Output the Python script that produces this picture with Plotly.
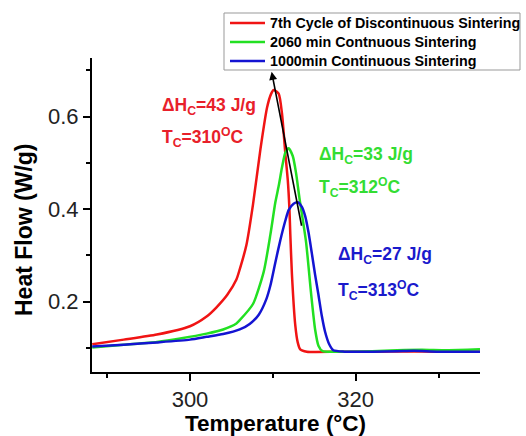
import plotly.graph_objects as go

# ---- data ----
red_x = [288.2, 292.0, 296.0, 300.0, 302.0, 303.2, 304.5, 305.6, 306.0, 306.8, 307.6, 308.5, 309.3, 309.8, 310.1,
         310.7, 311.1, 311.5, 311.8, 312.0, 312.1, 312.3, 312.7, 313.0, 313.3, 314.1, 318.0, 322.0, 326.0, 330.0, 335.0]
red_y = [0.108, 0.118, 0.129, 0.147, 0.168, 0.188, 0.215, 0.248, 0.270, 0.322, 0.410, 0.530, 0.620, 0.650, 0.658,
         0.650, 0.607, 0.521, 0.463, 0.400, 0.348, 0.260, 0.150, 0.112, 0.097, 0.092, 0.092, 0.092, 0.093, 0.092, 0.092]

green_x = [288.2, 292.0, 296.0, 299.0, 302.0, 304.0, 305.6, 306.0, 307.6, 308.9, 309.7, 310.3, 310.7, 311.1, 311.5,
           311.9, 312.4, 312.8, 313.2, 314.0, 314.6, 315.1, 315.5, 316.0, 318.0, 322.0, 325.0, 328.0, 331.0, 335.0]
green_y = [0.101, 0.107, 0.113, 0.121, 0.131, 0.140, 0.153, 0.160, 0.195, 0.265, 0.345, 0.415, 0.450, 0.490, 0.522,
           0.532, 0.515, 0.478, 0.425, 0.330, 0.220, 0.140, 0.105, 0.093, 0.092, 0.093, 0.095, 0.096, 0.095, 0.097]

blue_x = [288.2, 292.0, 296.0, 300.0, 302.0, 304.0, 306.0, 307.2, 308.3, 309.2, 309.7, 310.3, 310.9, 311.5, 311.9,
          312.5, 313.0, 313.5, 313.9, 314.3, 314.7, 315.1, 315.5, 315.9, 316.3, 316.8, 317.3, 318.6, 322.0, 325.0,
          327.0, 330.0, 335.0]
blue_y = [0.103, 0.107, 0.112, 0.118, 0.124, 0.130, 0.140, 0.152, 0.172, 0.205, 0.235, 0.285, 0.333, 0.375, 0.398,
          0.412, 0.415, 0.405, 0.385, 0.350, 0.305, 0.258, 0.215, 0.170, 0.135, 0.108, 0.095, 0.092, 0.092, 0.093,
          0.094, 0.092, 0.092]

names = ["7th Cycle of Discontinuous Sintering", "2060 min Contnuous Sintering", "1000min Continuous Sintering"]
line_colors = ["#f01414", "#22e022", "#1414d2"]
text_colors = ["#e8202a", "#33dd33", "#1a1acc"]

labels = [
    ("ΔH<sub>C</sub>=43 J/g", "T<sub>C</sub>=310<sup>O</sup>C", 296.4, 0.622, 0.555),
    ("ΔH<sub>C</sub>=33 J/g", "T<sub>C</sub>=312<sup>O</sup>C", 315.3, 0.517, 0.448),
    ("ΔH<sub>C</sub>=27 J/g", "T<sub>C</sub>=313<sup>O</sup>C", 317.6, 0.301, 0.225),
]

x_title = "Temperature (°C)"
y_title = "Heat Flow (W/g)"

arrow_tail = (313.5, 0.361)
arrow_head = (309.85, 0.697)

# ---- layout geometry (pixels) ----
W, H = 526, 436
ML, MR, MT, MB = 92, 46, 58, 64
PW, PH = W - ML - MR, H - MT - MB


def px(x):
    return (x - ML) / PW


def py(y):
    return (H - MB - y) / PH


FONT = "Arial, Liberation Sans"

fig = go.Figure()
for xs, ys, nm, c in zip([red_x, green_x, blue_x], [red_y, green_y, blue_y], names, line_colors):
    fig.add_trace(go.Scatter(x=xs, y=ys, mode="lines", name=nm, showlegend=False,
                             line=dict(color=c, width=2.5, shape="spline", smoothing=0.6)))

ann = []
shapes = []
for (l1, l2, x, y1, y2), tc in zip(labels, text_colors):
    for txt, yy in ((l1, y1), (l2, y2)):
        ann.append(dict(x=x, y=yy, xref="x", yref="y", text=txt, showarrow=False,
                        xanchor="left", yanchor="middle",
                        font=dict(family=FONT, size=17.5, color=tc, weight="bold")))

ann.append(dict(x=arrow_head[0], y=arrow_head[1], ax=arrow_tail[0], ay=arrow_tail[1],
                xref="x", yref="y", axref="x", ayref="y", text="", showarrow=True,
                arrowhead=2, arrowsize=1, arrowwidth=1.6, arrowcolor="black"))

# legend (drawn box)
shapes.append(dict(type="rect", xref="paper", yref="paper", x0=px(224), x1=px(520), y0=py(13), y1=py(70),
                   line=dict(color="#999", width=1), fillcolor="white", layer="above"))
for i, (nm, c) in enumerate(zip(names, line_colors)):
    ry = 23 + 19 * i
    shapes.append(dict(type="line", xref="paper", yref="paper", x0=px(230), x1=px(265), y0=py(ry), y1=py(ry),
                       line=dict(color=c, width=2.5), layer="above"))
    ann.append(dict(x=px(268), y=py(ry), xref="paper", yref="paper", text=nm, showarrow=False,
                    xanchor="left", yanchor="middle",
                    font=dict(family=FONT, size=14.3, color="black", weight="bold")))

# axis titles
ann.append(dict(x=px(275), y=py(423), xref="paper", yref="paper", text=x_title, showarrow=False,
                xanchor="center", yanchor="middle",
                font=dict(family=FONT, size=22.5, color="black", weight="bold")))
ann.append(dict(x=px(24), y=py(230), xref="paper", yref="paper", text=y_title, showarrow=False,
                xanchor="center", yanchor="middle", textangle=-90,
                font=dict(family=FONT, size=23, color="black", weight="bold")))

axis_common = dict(showline=True, linecolor="black", linewidth=2, ticks="outside", tickcolor="black",
                   tickwidth=2, ticklen=7, showgrid=False, zeroline=False, automargin=False,
                   tickfont=dict(family=FONT, size=22, color="#222"))

fig.update_layout(
    width=W, height=H,
    margin=dict(l=ML, r=MR, t=MT, b=MB),
    plot_bgcolor="white", paper_bgcolor="white",
    showlegend=False,
    annotations=ann,
    shapes=shapes,
    xaxis=dict(range=[288.17, 335.0], tickmode="linear", tick0=0, dtick=20,
               minor=dict(dtick=10, tick0=0, ticks="outside", ticklen=4, tickwidth=2, tickcolor="black"),
               **axis_common),
    yaxis=dict(range=[0.048, 0.727], tickmode="linear", tick0=0, dtick=0.2,
               minor=dict(dtick=0.1, tick0=0, ticks="outside", ticklen=4, tickwidth=2, tickcolor="black"),
               **axis_common),
)

fig.write_html("out.html")
